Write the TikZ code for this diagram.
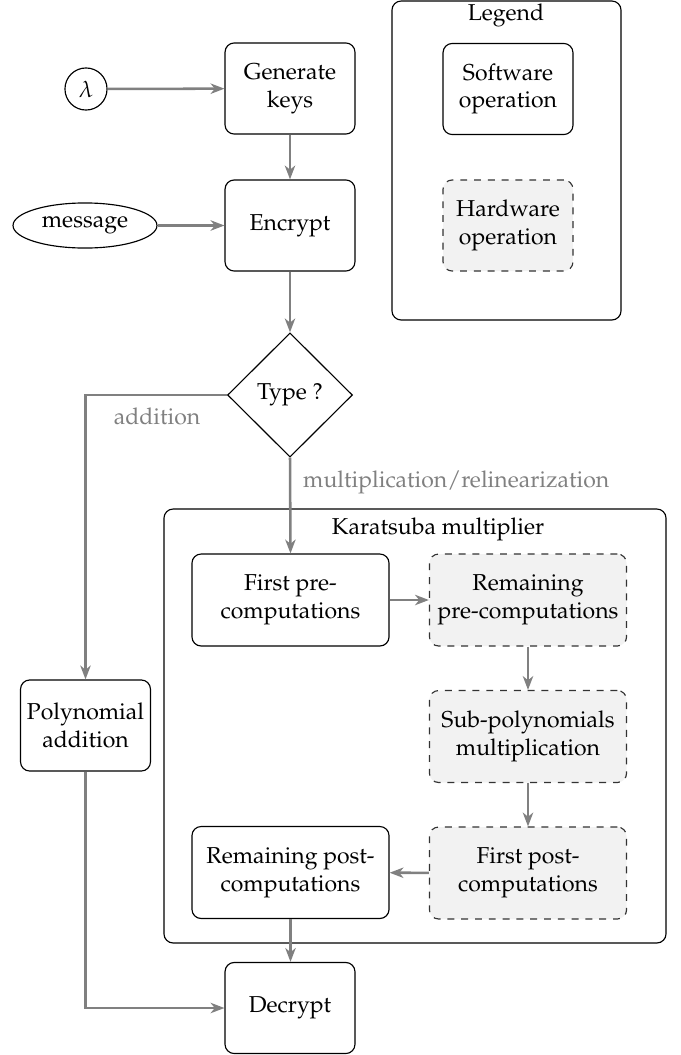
\documentclass[tikz,border=0pt]{standalone}
\usepackage[T1]{fontenc}
\usepackage{mathpazo}
\usetikzlibrary{shapes.geometric,arrows.meta}
\begin{document}
\begin{tikzpicture}[x=0.4348pt,y=-0.4348pt,
  font=\fontsize{10}{12}\selectfont,
  every node/.style={line width=0.5pt},
  swbox/.style={draw, rounded corners=4pt, align=center, inner sep=2pt,
    minimum width=56.5pt, minimum height=39.6pt},
  hwbox/.style={swbox, dashed, draw=black!80, fill=gray!10},
  widebox/.style={minimum width=85.7pt, minimum height=40pt},
  framebox/.style={draw, rounded corners=4pt, inner sep=0pt},
  flow/.style={draw=gray, line width=1.1pt, -{Stealth[length=6pt,width=4.5pt,inset=1.8pt]}},
  branch/.style={text=gray}]
\useasboundingbox (0,0) rectangle (681,1055);

% legend
\node[framebox, minimum width=99.6pt, minimum height=138.7pt] (legend) at (506.5,160.5) {};
\node (legendtitle) at (506,15) {Legend};
\node[swbox] (sw) at (508,89) {Software\\operation};
\node[hwbox] (hw) at (508,225.5) {Hardware\\operation};

% inputs and key generation
\node[draw, circle, minimum size=18.3pt, inner sep=0pt] (lambda) at (86,89) {$\lambda$};
\node[swbox] (gen) at (290,88.5) {Generate\\keys};
\node[draw, ellipse, minimum width=62.6pt, minimum height=19.6pt, inner sep=0pt] (msg) at (85,225.5) {message};
\node[swbox] (enc) at (290,225.5) {Encrypt};
\node[draw, diamond, minimum width=54.3pt, minimum height=54pt, inner sep=0pt] (type) at (290,395) {Type ?};

% Karatsuba multiplier
\node[framebox, minimum width=218.3pt, minimum height=188.7pt] (kara) at (415,726) {};
\node (karatitle) at (438,529) {Karatsuba multiplier};
\node[swbox, widebox] (firstpre) at (290.5,600) {First pre-\\computations};
\node[hwbox, widebox] (rempre) at (528,600) {Remaining\\pre-computations};
\node[hwbox, widebox] (subpoly) at (528,736.5) {Sub-polynomials\\multiplication};
\node[hwbox, widebox] (firstpost) at (528,873) {First post-\\computations};
\node[swbox, widebox] (rempost) at (290.5,872.5) {Remaining post-\\computations};

% addition branch and decryption
\node[swbox] (polyadd) at (85.5,725.5) {Polynomial\\addition};
\node[swbox] (dec) at (290,1008) {Decrypt};

% branch labels
\node[branch] (addlabel) at (157,416) {addition};
\node[branch, anchor=west] (mullabel) at (295,482) {multiplication/relinearization};

% connectors
\draw[flow] (lambda) -- (gen);
\draw[flow] (gen) -- (enc);
\draw[flow] (msg) -- (enc);
\draw[flow] (enc) -- (type);
\draw[flow] (type.west) -| (polyadd.north);
\draw[flow] (type.south) -- (firstpre.north);
\draw[flow] (firstpre) -- (rempre);
\draw[flow] (rempre) -- (subpoly);
\draw[flow] (subpoly) -- (firstpost);
\draw[flow] (firstpost) -- (rempost);
\draw[flow] (rempost.south) -- (rempost.south |- dec.north);
\draw[flow] (polyadd.south) |- (dec.west);
\end{tikzpicture}
\end{document}
